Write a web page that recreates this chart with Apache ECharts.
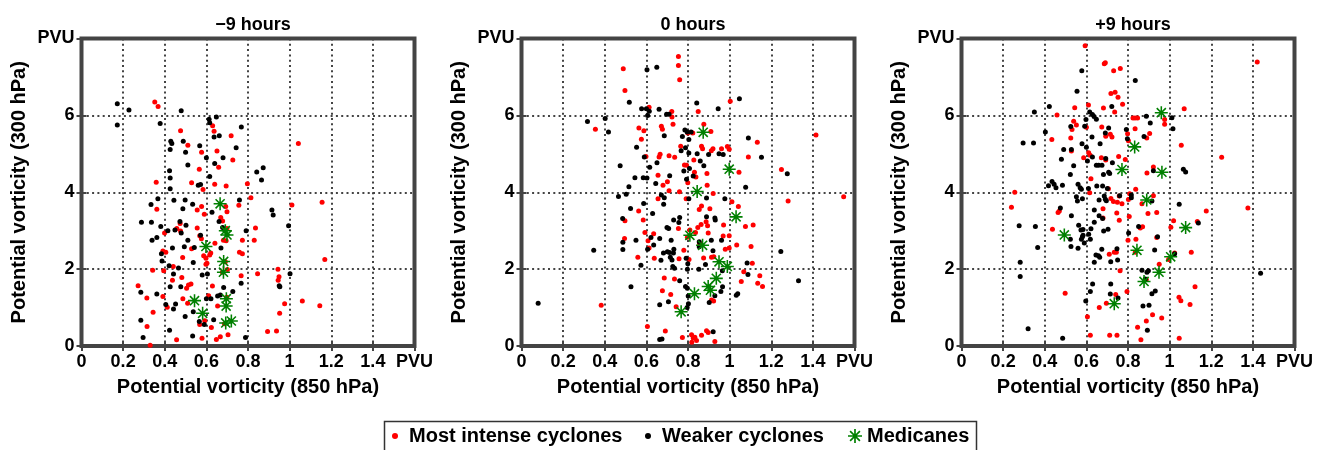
<!DOCTYPE html>
<html>
<head>
<meta charset="utf-8">
<script src="https://cdn.jsdelivr.net/npm/echarts@6/dist/echarts.min.js"></script>
<style>
html,body{margin:0;padding:0;background:#fff;}
#chart{width:1323px;height:450px;}
</style>
</head>
<body>
<div id="chart"></div>
<script>
// ---------- DATA ----------
const panelTitles = ['\u22129 hours', '0 hours', '+9 hours'];
const xTickLabels = ['0', '0.2', '0.4', '0.6', '0.8', '1', '1.2', '1.4', 'PVU'];
const yTickLabels = ['0', '2', '4', '6', 'PVU'];
const seriesNames = ['Most intense cyclones', 'Weaker cyclones', 'Medicanes'];

// -9 hours
const intenseM9 = [[0.352,6.35],[0.368,6.23],[0.630,5.73],[0.476,5.60],[0.637,5.59],[0.719,5.47],[1.042,5.27],[0.511,5.22],[0.577,5.04],[0.651,5.07],[0.727,4.84],[0.566,4.60],[0.659,4.65],[0.359,4.26],[0.529,4.25],[0.640,4.21],[0.695,4.16],[0.797,4.22],[0.584,4.07],[0.814,3.86],[0.362,3.56],[0.556,3.54],[0.577,3.63],[0.590,3.43],[0.693,3.63],[0.699,3.49],[0.756,3.66],[1.011,3.67],[1.156,3.74],[0.399,2.94],[0.458,3.06],[0.476,2.99],[0.474,3.19],[0.556,3.07],[0.568,2.87],[0.576,2.79],[0.669,3.34],[0.678,3.25],[0.699,3.06],[0.695,2.74],[0.836,3.07],[0.830,2.75],[0.773,2.75],[0.391,2.47],[0.405,2.44],[0.486,2.30],[0.529,2.53],[0.587,2.35],[0.598,2.28],[0.616,2.37],[0.621,2.42],[0.598,2.13],[0.641,2.67],[0.682,2.75],[0.759,2.44],[0.773,2.40],[0.691,2.19],[0.701,1.99],[1.169,2.25],[0.342,1.97],[0.395,1.96],[0.441,2.07],[0.437,1.71],[0.482,1.78],[0.505,1.50],[0.514,1.59],[0.526,1.61],[0.603,2.15],[0.629,1.56],[0.677,1.92],[0.767,1.83],[0.846,1.88],[0.944,2.00],[0.945,1.71],[0.949,1.80],[0.272,1.57],[0.314,1.25],[0.391,1.29],[0.412,1.01],[0.487,1.23],[0.510,1.11],[0.611,1.31],[0.654,1.04],[0.698,1.27],[0.976,1.10],[1.061,1.17],[1.145,1.05],[0.952,0.85],[0.937,0.39],[0.315,0.51],[0.344,0.88],[0.330,0.02],[0.457,0.16],[0.579,0.20],[0.568,0.56],[0.592,0.66],[0.624,0.48],[0.648,0.17],[0.667,0.24],[0.704,0.29],[0.687,0.58],[0.894,0.38]];
const weakerM9 = [[0.172,6.30],[0.172,5.75],[0.228,6.14],[0.479,6.12],[0.378,5.79],[0.613,5.90],[0.616,5.81],[0.648,5.96],[0.768,5.70],[0.637,5.44],[0.662,5.47],[0.429,5.33],[0.434,5.27],[0.489,5.33],[0.568,5.21],[0.426,5.11],[0.743,5.16],[0.500,5.04],[0.600,4.90],[0.680,4.90],[0.423,4.56],[0.511,4.71],[0.640,4.75],[0.616,4.41],[0.426,4.37],[0.842,4.53],[0.873,4.64],[0.865,4.32],[0.561,4.18],[0.572,4.20],[0.426,4.09],[0.334,3.68],[0.367,3.83],[0.444,3.79],[0.498,3.80],[0.534,3.69],[0.487,3.57],[0.627,3.48],[0.759,3.80],[0.915,3.54],[0.921,3.41],[0.288,3.22],[0.336,3.22],[0.339,2.75],[0.362,2.82],[0.381,3.11],[0.415,3.00],[0.449,3.02],[0.473,3.24],[0.479,2.94],[0.502,3.14],[0.511,2.75],[0.572,2.88],[0.661,3.24],[0.678,3.08],[0.791,3.00],[0.995,3.13],[0.384,2.40],[0.437,2.55],[0.494,2.58],[0.537,2.17],[0.542,2.56],[0.670,2.55],[0.387,2.21],[0.421,2.09],[0.442,1.87],[0.466,2.03],[0.426,1.54],[0.477,1.54],[0.580,1.85],[0.605,1.87],[0.683,1.52],[0.767,1.63],[0.950,1.57],[0.953,1.54],[1.002,1.88],[0.285,1.40],[0.362,1.35],[0.405,1.08],[0.442,0.96],[0.452,1.09],[0.537,0.89],[0.600,1.23],[0.622,1.23],[0.654,1.30],[0.667,1.33],[0.727,1.42],[0.285,0.67],[0.296,0.22],[0.423,0.41],[0.498,0.77],[0.534,0.26],[0.566,0.64],[0.590,0.56],[0.635,0.68],[0.788,0.22]];
const medicanesM9 = [[0.666,3.70],[0.691,3.00],[0.699,2.89],[0.598,2.59],[0.683,2.20],[0.682,1.92],[0.543,1.18],[0.696,1.23],[0.695,1.04],[0.582,0.85],[0.693,0.60],[0.720,0.65]];

// 0 hours
const intense0 = [[0.383,1.06],[0.355,5.64],[0.489,7.21],[0.497,6.65],[0.497,3.26],[0.495,2.80],[0.563,3.51],[0.559,2.31],[0.564,5.67],[0.576,5.38],[0.613,6.21],[0.588,5.60],[0.598,4.93],[0.661,4.92],[0.666,4.99],[0.656,4.44],[0.680,4.18],[0.701,4.27],[0.656,3.83],[0.709,4.04],[0.709,4.95],[0.672,5.72],[0.677,5.64],[0.722,6.10],[0.723,5.96],[0.728,5.77],[0.736,4.91],[0.765,5.20],[0.754,7.53],[0.754,7.30],[0.760,6.93],[0.585,3.28],[0.593,2.95],[0.608,2.74],[0.613,2.55],[0.635,2.92],[0.638,2.28],[0.605,0.51],[0.691,0.39],[0.677,1.44],[0.717,1.34],[0.686,1.77],[0.754,3.06],[0.735,1.74],[0.743,1.02],[0.773,0.22],[0.817,0.29],[0.825,0.21],[0.833,0.23],[0.818,0.10],[0.841,0.14],[0.865,0.28],[0.889,0.40],[0.897,0.35],[0.929,0.12],[0.799,5.54],[0.823,5.54],[0.783,4.71],[0.793,4.70],[0.799,4.25],[0.849,6.10],[0.876,5.77],[0.865,5.20],[0.870,5.13],[0.891,4.49],[0.912,5.08],[0.920,5.13],[0.961,5.13],[0.989,5.19],[0.998,5.12],[1.003,6.37],[0.910,5.58],[0.828,4.84],[0.831,4.52],[0.838,4.40],[0.892,4.18],[0.759,4.01],[0.791,3.83],[0.854,3.55],[0.865,3.64],[0.905,3.57],[0.921,3.97],[1.011,3.75],[1.042,3.63],[0.887,3.23],[0.894,3.13],[0.863,3.16],[0.847,3.08],[0.971,3.15],[1.076,3.11],[1.113,3.15],[0.809,3.02],[0.797,2.83],[0.836,2.95],[0.897,2.94],[0.855,2.68],[0.969,2.86],[0.998,2.87],[0.998,2.55],[0.979,2.52],[1.034,2.63],[1.103,2.59],[0.875,2.29],[0.924,2.32],[0.913,2.31],[0.805,2.25],[0.780,2.49],[0.757,2.27],[1.109,2.15],[1.068,1.93],[1.056,1.68],[1.135,1.63],[1.145,1.83],[1.158,1.55],[0.913,1.20],[0.923,1.17],[1.249,4.59],[1.281,3.77],[1.415,5.49],[1.548,3.88],[1.133,5.30],[1.090,4.92],[1.045,4.52]];
const weaker0 = [[0.080,1.11],[0.317,5.84],[0.402,5.92],[0.418,5.57],[0.518,6.34],[0.474,4.69],[0.347,2.49],[0.466,3.89],[0.503,3.95],[0.516,4.14],[0.545,4.38],[0.524,3.58],[0.486,3.32],[0.487,2.70],[0.487,2.51],[0.526,1.54],[0.550,2.75],[0.574,2.10],[0.553,5.17],[0.577,6.17],[0.603,7.19],[0.650,7.25],[0.600,6.17],[0.614,6.11],[0.606,6.00],[0.661,6.16],[0.590,4.92],[0.585,4.38],[0.603,4.37],[0.616,4.65],[0.651,4.77],[0.645,4.23],[0.672,3.93],[0.686,3.86],[0.683,3.69],[0.712,4.43],[0.686,5.47],[0.697,6.03],[0.709,6.03],[0.587,3.71],[0.630,3.45],[0.606,2.52],[0.622,2.82],[0.635,2.63],[0.664,2.80],[0.670,2.23],[0.682,2.42],[0.664,0.17],[0.675,0.18],[0.664,1.07],[0.706,1.15],[0.707,3.06],[0.699,3.08],[0.719,2.75],[0.731,3.28],[0.756,3.21],[0.760,3.34],[0.711,2.43],[0.730,2.42],[0.732,2.52],[0.715,2.31],[0.701,2.45],[0.723,2.24],[0.727,2.07],[0.735,2.02],[0.760,1.70],[0.791,2.28],[0.797,2.00],[0.788,1.55],[0.797,1.50],[0.801,1.30],[0.802,1.10],[0.796,1.00],[0.921,0.37],[0.767,5.08],[0.773,5.45],[0.785,5.62],[0.796,5.57],[0.804,5.37],[0.815,5.57],[0.788,5.16],[0.804,5.02],[0.780,4.55],[0.793,4.34],[0.807,4.62],[0.842,6.32],[0.844,5.00],[0.859,4.81],[0.876,4.69],[0.899,4.98],[0.949,5.00],[0.969,4.98],[0.945,6.17],[1.047,6.43],[0.825,4.42],[0.889,3.85],[0.804,3.83],[0.977,3.83],[0.929,3.33],[0.931,3.28],[0.889,3.36],[0.854,2.71],[0.854,2.58],[0.912,2.75],[0.961,2.75],[1.246,2.46],[0.920,2.48],[0.884,2.12],[0.852,2.00],[0.799,2.14],[1.084,2.16],[1.088,1.86],[0.965,1.96],[0.966,1.54],[0.958,1.42],[0.902,1.13],[0.929,1.31],[1.039,1.36],[1.032,1.32],[1.331,1.70],[1.153,4.91],[1.090,5.41],[1.077,4.13],[1.277,4.48]];
const medicanes0 = [[0.873,5.56],[0.998,4.60],[0.844,4.02],[1.031,3.36],[0.809,2.88],[0.870,2.62],[0.949,2.19],[0.989,2.07],[0.936,1.76],[0.897,1.55],[0.908,1.45],[0.831,1.36],[0.767,0.89]];

// +9 hours
const intenseP9 = [[0.594,7.81],[0.686,7.34],[0.691,7.37],[0.731,7.16],[0.763,7.22],[1.421,7.39],[0.718,6.57],[0.738,6.60],[0.752,6.47],[0.459,6.01],[0.544,6.20],[0.610,6.27],[0.682,6.19],[0.736,6.09],[0.774,6.29],[0.824,5.93],[0.846,5.93],[0.976,5.89],[0.976,5.77],[1.070,6.17],[0.434,5.37],[0.539,5.85],[0.552,5.75],[0.531,5.63],[0.525,5.41],[0.528,5.07],[0.587,4.90],[0.611,5.03],[0.600,5.69],[0.618,4.96],[0.674,5.70],[0.693,5.46],[0.715,5.51],[0.723,5.44],[0.693,4.84],[0.672,4.90],[0.798,5.52],[0.802,5.34],[0.755,4.93],[0.787,4.85],[0.834,5.93],[0.834,5.65],[0.890,5.41],[0.904,5.53],[0.891,4.50],[0.922,4.66],[1.056,5.22],[1.250,4.91],[0.616,3.99],[0.622,4.35],[0.706,4.09],[0.718,3.84],[0.730,3.76],[0.749,3.74],[0.758,3.90],[0.802,3.81],[0.808,3.96],[0.837,4.08],[0.922,3.91],[0.867,3.70],[0.256,4.00],[0.240,3.61],[0.464,3.47],[0.470,3.51],[0.680,3.57],[0.680,3.33],[0.710,2.39],[0.734,2.44],[0.744,2.44],[0.746,3.46],[0.758,3.27],[0.771,3.70],[0.806,3.37],[0.800,2.75],[0.859,3.07],[0.870,3.10],[0.838,2.78],[0.835,2.44],[0.896,3.45],[0.938,3.47],[0.938,2.82],[1.019,3.26],[1.006,3.09],[1.176,3.51],[1.133,3.24],[1.376,3.59],[1.104,2.44],[1.024,2.42],[0.995,2.25],[0.950,2.13],[0.888,1.73],[0.762,1.96],[0.437,3.04],[0.498,1.37],[0.741,1.34],[0.696,1.11],[0.662,1.00],[0.795,1.42],[0.918,0.81],[0.888,0.65],[0.846,0.49],[0.862,0.16],[0.962,0.73],[1.045,1.27],[1.054,1.18],[1.098,1.08],[1.122,1.54],[1.046,0.20],[0.605,0.76],[0.619,0.28],[0.712,0.28],[0.747,0.28]];
const weakerP9 = [[0.578,7.16],[0.835,6.91],[0.555,6.63],[0.350,6.09],[0.422,6.23],[0.616,6.09],[0.629,6.02],[0.637,5.97],[0.648,5.90],[0.598,5.89],[0.592,5.72],[0.722,6.23],[0.888,5.98],[1.011,5.94],[1.016,5.65],[0.907,5.80],[0.403,5.57],[0.525,5.71],[0.528,5.11],[0.296,5.28],[0.346,5.28],[0.491,5.11],[0.480,4.86],[0.539,4.69],[0.579,5.26],[0.600,5.17],[0.627,5.44],[0.666,5.26],[0.605,4.81],[0.629,4.92],[0.648,4.70],[0.691,5.54],[0.707,5.67],[0.693,4.88],[0.659,4.70],[0.675,4.70],[0.707,4.52],[0.712,4.49],[0.682,4.46],[0.725,4.77],[0.792,5.63],[0.797,5.39],[0.877,5.45],[0.922,4.56],[1.066,4.60],[1.077,4.53],[0.523,4.46],[0.560,4.21],[0.570,4.12],[0.576,4.08],[0.581,3.83],[0.552,3.88],[0.557,3.77],[0.610,4.10],[0.650,4.16],[0.678,4.16],[0.701,4.10],[0.686,3.90],[0.661,3.80],[0.691,3.82],[0.696,3.78],[0.760,3.91],[0.816,3.93],[0.816,3.86],[0.915,3.77],[1.046,3.69],[0.418,4.17],[0.435,4.28],[0.445,4.21],[0.454,4.12],[0.485,4.18],[0.475,3.59],[0.528,3.39],[0.563,3.14],[0.574,3.02],[0.584,3.03],[0.581,2.84],[0.576,2.78],[0.584,2.88],[0.619,2.78],[0.611,2.91],[0.590,2.68],[0.638,3.54],[0.661,3.39],[0.638,3.22],[0.678,3.32],[0.622,3.05],[0.683,2.99],[0.704,3.04],[0.674,2.52],[0.646,2.37],[0.658,2.35],[0.664,2.31],[0.638,2.18],[0.747,2.53],[0.803,2.94],[0.851,3.11],[0.928,2.50],[0.942,2.84],[1.138,3.20],[1.024,2.40],[0.867,1.97],[0.891,1.92],[0.898,1.96],[0.883,1.74],[1.437,1.89],[0.717,2.19],[0.750,2.24],[0.277,3.13],[0.355,3.11],[0.366,2.56],[0.523,2.78],[0.526,2.59],[0.560,2.54],[0.282,2.18],[0.282,1.81],[0.630,1.61],[0.619,1.42],[0.597,1.17],[0.717,1.61],[0.715,1.35],[0.752,1.25],[0.872,1.04],[0.901,1.06],[0.931,1.43],[0.915,1.36],[0.893,0.41],[0.320,0.45],[0.486,0.20]];
const medicanesP9 = [[0.960,6.07],[0.832,5.18],[0.771,4.59],[0.963,4.52],[0.890,3.80],[1.077,3.08],[0.494,2.89],[0.843,2.49],[1.005,2.32],[0.949,1.92],[0.877,1.68],[0.734,1.10]];

// ---------- CHART ----------
const FONT = "'Liberation Sans', Arial, Helvetica, sans-serif";
const STAR = 'path://M0,8.8H20V11.2H0Z M8.8,0H11.2V20H8.8Z M2.15,3.85L3.85,2.15L17.85,16.15L16.15,17.85Z M16.15,2.15L17.85,3.85L3.85,17.85L2.15,16.15Z';
const colors = ['#ff0000', '#000000', '#008000'];
const panelData = [
  [intenseM9, weakerM9, medicanesM9],
  [intense0, weaker0, medicanes0],
  [intenseP9, weakerP9, medicanesP9]
];
const gridLefts = [81.5, 521.5, 961.5];
const GW = 333, GTOP = 38.5, GH = 307.5;

const grids = [], xAxes = [], yAxes = [], series = [], titles = [];
const dotted = { color: '#444', width: 2, type: [2, 3.3] };
const tickStyle = { color: '#444', width: 2 };
const boldText = { fontFamily: FONT, fontWeight: 'bold', color: '#000' };

gridLefts.forEach((gl, i) => {
  grids.push({ left: gl, top: GTOP, width: GW, height: GH, show: true,
    borderColor: '#444', borderWidth: 4, backgroundColor: 'transparent',
    containLabel: false, outerBoundsMode: 'none' });
  titles.push({ text: panelTitles[i], left: gl + GW / 2, top: 11, textAlign: 'center',
    textStyle: Object.assign({ fontSize: 18 }, boldText) });
  xAxes.push({
    gridIndex: i, type: 'value', min: 0, max: 1.6, interval: 0.2,
    name: 'Potential vorticity (850 hPa)', nameLocation: 'middle', nameGap: 31,
    nameTextStyle: Object.assign({ fontSize: 20 }, boldText),
    axisLine: { show: false },
    axisTick: { show: true, inside: true, length: 5, lineStyle: tickStyle },
    axisLabel: Object.assign({ fontSize: 18, margin: 7, showMinLabel: true, showMaxLabel: true,
      formatter: v => xTickLabels[Math.round(v / 0.2)] }, boldText),
    splitLine: { show: true, lineStyle: dotted }
  });
  yAxes.push({
    gridIndex: i, type: 'value', min: 0, max: 8, interval: 2,
    name: 'Potential vorticity (300 hPa)', nameLocation: 'middle', nameGap: 52,
    nameTextStyle: Object.assign({ fontSize: 20 }, boldText),
    axisLine: { show: false },
    axisTick: { show: true, inside: true, length: 5, lineStyle: tickStyle },
    axisLabel: Object.assign({ fontSize: 18, margin: 7, showMinLabel: true, showMaxLabel: true,
      formatter: v => yTickLabels[Math.round(v / 2)] }, boldText),
    splitLine: { show: true, lineStyle: dotted }
  });
  panelData[i].forEach((d, k) => {
    series.push({
      type: 'scatter', name: seriesNames[k], xAxisIndex: i, yAxisIndex: i,
      data: d, symbol: k === 2 ? STAR : 'circle', symbolSize: k === 2 ? 13 : 5,
      itemStyle: { color: colors[k], opacity: 1 }, z: 3 + k, silent: true,
      emphasis: { disabled: true }
    });
  });
});
// mirror axes (top / right) carrying only inward ticks, as in the box-style frame
gridLefts.forEach((gl, i) => {
  xAxes.push({ gridIndex: i, type: 'value', position: 'top', min: 0, max: 1.6, interval: 0.2,
    axisLine: { show: false }, axisLabel: { show: false }, splitLine: { show: false },
    axisTick: { show: true, inside: true, length: 5, lineStyle: tickStyle } });
  yAxes.push({ gridIndex: i, type: 'value', position: 'right', min: 0, max: 8, interval: 2,
    axisLine: { show: false }, axisLabel: { show: false }, splitLine: { show: false },
    axisTick: { show: true, inside: true, length: 5, lineStyle: tickStyle } });
});

const legendCommon = { orient: 'horizontal', top: 426, padding: 0, selectedMode: false,
  textStyle: Object.assign({ fontSize: 20 }, boldText) };
const legends = [
  Object.assign({}, legendCommon, { left: 392, itemWidth: 18, itemHeight: 6, data: [{ name: seriesNames[0], icon: 'circle' }] }),
  Object.assign({}, legendCommon, { left: 645, itemWidth: 18, itemHeight: 6, data: [{ name: seriesNames[1], icon: 'circle' }] }),
  Object.assign({}, legendCommon, { left: 848, itemWidth: 14, itemHeight: 14, data: [{ name: seriesNames[2], icon: STAR }] })
];

const chart = echarts.init(document.getElementById('chart'), null, { renderer: 'canvas' });
chart.setOption({
  backgroundColor: '#fff',
  animation: false,
  title: titles,
  grid: grids,
  xAxis: xAxes,
  yAxis: yAxes,
  legend: legends,
  graphic: [{ type: 'rect', shape: { x: 384.5, y: 421.5, width: 592, height: 40 },
    style: { fill: '#fff', stroke: '#333', lineWidth: 1.5 }, z: -1, silent: true }],
  series: series
});
</script>
</body>
</html>
